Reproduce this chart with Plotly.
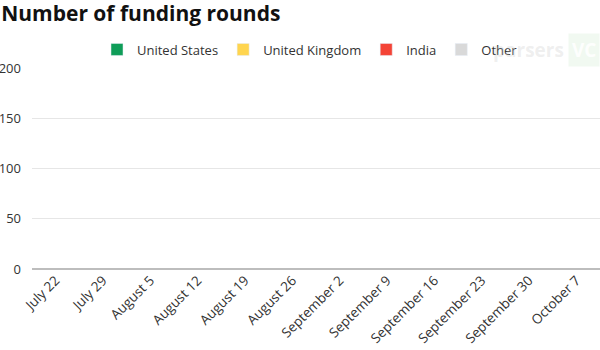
import plotly.graph_objects as go

weeks = ["July 22", "July 29", "August 5", "August 12", "August 19", "August 26",
         "September 2", "September 9", "September 16", "September 23", "September 30", "October 7"]
united_states = [0] * 12
united_kingdom = [0] * 12
india = [0] * 12
other = [0] * 12

series = [
    ("United States", united_states, "#0f9d58"),
    ("United Kingdom", united_kingdom, "#ffd54f"),
    ("India", india, "#f44336"),
    ("Other", other, "#d9d9d9"),
]

fig = go.Figure()
for name, vals, color in series:
    fig.add_trace(go.Bar(x=weeks, y=vals, name=name, marker_color=color))

PL, PR = 32, 0
PW = 600 - PL - PR

fig.update_layout(
    barmode="stack",
    width=600, height=350,
    margin=dict(l=PL, r=PR, t=68, b=81, autoexpand=False),
    paper_bgcolor="white", plot_bgcolor="white",
    font=dict(family="Open Sans", size=12, color="#333333"),
    title=dict(text="<b>Number of funding rounds</b>", x=0.002, xanchor="left", xref="container",
               y=1 - 14 / 350, yanchor="middle", font=dict(size=21, color="#111111")),
    legend=dict(orientation="h", traceorder="normal", x=(97 - PL) / PW, xanchor="left",
                y=1.092, yanchor="middle",
                font=dict(size=13, color="#333333"), itemwidth=30),
    xaxis=dict(tickangle=-45, showgrid=False, showline=False, ticks="", automargin=False,
               tickfont=dict(size=13.5, color="#333333")),
    yaxis=dict(range=[0, 200], tickvals=[0, 50, 100, 150, 200], showgrid=True, automargin=False,
               gridcolor="#e6e6e6", zeroline=True, zerolinecolor="#bdbdbd", zerolinewidth=1.5,
               tickfont=dict(size=13, color="#333333"), ticks="", ticklen=0,
               ticklabelstandoff=10),
)

fig.add_annotation(text="<b>parsers</b>", xref="paper", yref="paper", x=(566 - PL) / PW, y=1.092,
                   xanchor="right", yanchor="middle", showarrow=False,
                   font=dict(size=19, color="rgba(200,200,200,0.3)", family="Open Sans"))
fig.add_annotation(text="<b>VC</b>", xref="paper", yref="paper", x=(568 - PL) / PW, y=1.092,
                   xanchor="left", yanchor="middle", showarrow=False,
                   bgcolor="rgba(200,230,200,0.25)", borderpad=3,
                   font=dict(size=19, color="rgba(255,255,255,0.9)", family="Open Sans"))

fig.write_html("out.html")
